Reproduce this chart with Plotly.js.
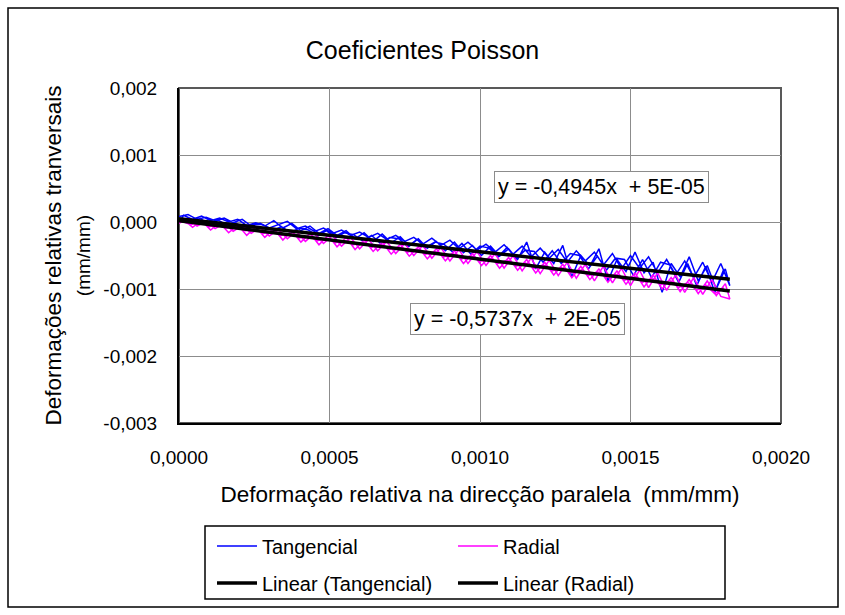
<!DOCTYPE html>
<html>
<head>
<meta charset="utf-8">
<script src="https://cdn.plot.ly/plotly-3.0.1.min.js"></script>
<style>html,body{margin:0;padding:0;background:#fff;}#chart{width:845px;height:615px;}</style>
</head>
<body>
<div id="chart"></div>
<script>
// ---- data (strain, mm/mm) ----
const strainUp = [0,0.00003,0.00006,0.00009,0.00012,0.00015,0.00018,0.00021,0.00024,0.00027,0.0003,0.00033,0.00036,0.00039,0.00042,0.00045,0.00048,0.00051,0.00054,0.00057,0.0006,0.00063,0.00066,0.00069,0.00072,0.00075,0.00078,0.00081,0.00084,0.00087,0.0009,0.00093,0.00096,0.00099,0.00102,0.00105,0.00108,0.00111,0.00114,0.00117,0.0012,0.00123,0.00126,0.00129,0.00132,0.00135,0.00138,0.00141,0.00144,0.00147,0.0015,0.00153,0.00156,0.00159,0.00162,0.00165,0.00168,0.00171,0.00174,0.00177,0.0018,0.00183];
const strainDown = [0.001815,0.001785,0.001755,0.001725,0.001695,0.001665,0.001635,0.001605,0.001575,0.001545,0.001515,0.001485,0.001455,0.001425,0.001395,0.001365,0.001335,0.001305,0.001275,0.001245,0.001215,0.001185,0.001155,0.001125,0.001095,0.001065,0.001035,0.001005,0.000975,0.000945,0.000915,0.000885,0.000855,0.000825,0.000795,0.000765,0.000735,0.000705,0.000675,0.000645,0.000615,0.000585,0.000555,0.000525,0.000495,0.000465,0.000435,0.000405,0.000375,0.000345,0.000315,0.000285,0.000255,0.000225,0.000195,0.000165,0.000135,0.000105,0.000075,0.000045,0.000015];
const strainUp2 = [0.00001,0.00004,0.00007,0.0001,0.00013,0.00016,0.00019,0.00022,0.00025,0.00028,0.00031,0.00034,0.00037,0.0004,0.00043,0.00046,0.00049,0.00052,0.00055,0.00058,0.00061,0.00064,0.00067,0.0007,0.00073,0.00076,0.00079,0.00082,0.00085,0.00088,0.00091,0.00094,0.00097,0.001,0.00103,0.00106,0.00109,0.00112,0.00115,0.00118,0.00121,0.00124,0.00127,0.0013,0.00133,0.00136,0.00139,0.00142,0.00145,0.00148,0.00151,0.00154,0.00157,0.0016,0.00163,0.00166,0.00169,0.00172,0.00175,0.00178,0.00181];

const tangUp = [80e-6,110e-6,40e-6,70e-6,20e-6,60e-6,-10e-6,40e-6,-60e-6,-20e-6,-90e-6,-40e-6,10e-6,-100e-6,-60e-6,-140e-6,-90e-6,-170e-6,-120e-6,-200e-6,-150e-6,-230e-6,-170e-6,-260e-6,-200e-6,-290e-6,-230e-6,-330e-6,-240e-6,-350e-6,-270e-6,-400e-6,-300e-6,-420e-6,-330e-6,-450e-6,-340e-6,-480e-6,-360e-6,-520e-6,-390e-6,-540e-6,-410e-6,-600e-6,-430e-6,-580e-6,-450e-6,-640e-6,-470e-6,-700e-6,-500e-6,-690e-6,-520e-6,-760e-6,-560e-6,-790e-6,-580e-6,-830e-6,-600e-6,-900e-6,-620e-6,-950e-6];
const tangDown = [-700e-6,-1000e-6,-650e-6,-880e-6,-520e-6,-820e-6,-620e-6,-1050e-6,-600e-6,-760e-6,-450e-6,-740e-6,-560e-6,-880e-6,-400e-6,-660e-6,-500e-6,-820e-6,-350e-6,-620e-6,-450e-6,-700e-6,-300e-6,-560e-6,-400e-6,-510e-6,-360e-6,-500e-6,-350e-6,-460e-6,-300e-6,-430e-6,-290e-6,-390e-6,-250e-6,-360e-6,-220e-6,-310e-6,-180e-6,-290e-6,-160e-6,-250e-6,-130e-6,-200e-6,-100e-6,-170e-6,-60e-6,-130e-6,-20e-6,-90e-6,20e-6,-60e-6,-10e-6,-50e-6,40e-6,0,60e-6,20e-6,90e-6,40e-6,100e-6];
const tangUp2 = [60e-6,0,50e-6,-30e-6,30e-6,-50e-6,-20e-6,-100e-6,-30e-6,-40e-6,-130e-6,-70e-6,-160e-6,-90e-6,-120e-6,-210e-6,-130e-6,-240e-6,-160e-6,-190e-6,-280e-6,-200e-6,-320e-6,-230e-6,-250e-6,-370e-6,-260e-6,-380e-6,-300e-6,-330e-6,-450e-6,-320e-6,-480e-6,-360e-6,-390e-6,-520e-6,-380e-6,-550e-6,-420e-6,-440e-6,-600e-6,-430e-6,-620e-6,-470e-6,-500e-6,-700e-6,-510e-6,-720e-6,-540e-6,-560e-6,-800e-6,-560e-6,-830e-6,-600e-6,-640e-6,-900e-6,-620e-6,-950e-6,-660e-6,-1050e-6,-700e-6];

const radUp = [-20e-6,50e-6,-60e-6,10e-6,-100e-6,-20e-6,-140e-6,-50e-6,-170e-6,-80e-6,-210e-6,-110e-6,-250e-6,-140e-6,-290e-6,-170e-6,-320e-6,-200e-6,-360e-6,-230e-6,-400e-6,-260e-6,-430e-6,-290e-6,-470e-6,-320e-6,-500e-6,-350e-6,-540e-6,-380e-6,-580e-6,-410e-6,-620e-6,-440e-6,-650e-6,-470e-6,-690e-6,-500e-6,-730e-6,-540e-6,-770e-6,-570e-6,-800e-6,-600e-6,-840e-6,-630e-6,-880e-6,-660e-6,-910e-6,-690e-6,-950e-6,-720e-6,-980e-6,-760e-6,-1020e-6,-790e-6,-1050e-6,-830e-6,-1080e-6,-860e-6,-1110e-6,-1150e-6];
const radDown = [-920e-6,-1100e-6,-880e-6,-1070e-6,-860e-6,-1040e-6,-830e-6,-1000e-6,-790e-6,-970e-6,-760e-6,-930e-6,-730e-6,-900e-6,-700e-6,-860e-6,-660e-6,-830e-6,-630e-6,-790e-6,-600e-6,-760e-6,-560e-6,-720e-6,-530e-6,-690e-6,-500e-6,-650e-6,-470e-6,-620e-6,-430e-6,-580e-6,-400e-6,-550e-6,-370e-6,-510e-6,-330e-6,-480e-6,-300e-6,-440e-6,-270e-6,-410e-6,-230e-6,-370e-6,-200e-6,-340e-6,-170e-6,-300e-6,-130e-6,-270e-6,-100e-6,-230e-6,-70e-6,-200e-6,-40e-6,-160e-6,-10e-6,-120e-6,20e-6,-80e-6,40e-6];
const radUp2 = [10e-6,-40e-6,10e-6,-70e-6,-40e-6,-90e-6,-60e-6,-130e-6,-110e-6,-170e-6,-140e-6,-200e-6,-170e-6,-240e-6,-210e-6,-280e-6,-240e-6,-310e-6,-280e-6,-340e-6,-300e-6,-380e-6,-330e-6,-410e-6,-370e-6,-450e-6,-400e-6,-480e-6,-440e-6,-520e-6,-470e-6,-550e-6,-500e-6,-590e-6,-540e-6,-620e-6,-570e-6,-660e-6,-610e-6,-690e-6,-640e-6,-730e-6,-680e-6,-760e-6,-710e-6,-800e-6,-740e-6,-830e-6,-780e-6,-870e-6,-800e-6,-900e-6,-840e-6,-940e-6,-870e-6,-980e-6,-900e-6,-1020e-6,-940e-6,-1070e-6,-980e-6];

// trendline equations shown on the chart
const seriesNames = ['Tangencial','Radial'];
const fitSlope = [-0.4945, -0.5737];
const fitIntercept = [5e-5, 2e-5];
const fitLabels = ['y = -0,4945x\u00a0 + 5E-05', 'y = -0,5737x\u00a0 + 2E-05'];

// tick labels
const xTickVals = [0, 0.0005, 0.001, 0.0015, 0.002];
const xTickText = ['0,0000','0,0005','0,0010','0,0015','0,0020'];
const yTickVals = [0.002, 0.001, 0, -0.001, -0.002, -0.003];
const yTickText = ['0,002','0,001','0,000','-0,001','-0,002','-0,003'];

// ---- layout geometry ----
const W = 845, H = 615, L = 179, R = 64, T = 88, B = 192;
const PW = W - L - R, PH = H - T - B;
const px = v => (v - L) / PW;
const py = v => 1 - (v - T) / PH;
const FONT = 'Liberation Sans, Arial, sans-serif';

const tangX = strainUp.concat(strainDown, strainUp2);
const tangY = tangUp.concat(tangDown, tangUp2);
const radX = strainUp.concat(strainDown, strainUp2);
const radY = radUp.concat(radDown, radUp2);

function fitLine(xs, k) {
  const x0 = Math.min.apply(null, xs), x1 = Math.max.apply(null, xs);
  return {x: [x0, x1], y: [fitSlope[k]*x0 + fitIntercept[k], fitSlope[k]*x1 + fitIntercept[k]]};
}
const fT = fitLine(tangX, 0), fR = fitLine(radX, 1);

const traces = [
  {x: tangX, y: tangY, type: 'scatter', mode: 'lines', name: seriesNames[0], line: {color: '#0000FF', width: 1.5}, legend: 'legend'},
  {x: radX, y: radY, type: 'scatter', mode: 'lines', name: seriesNames[1], line: {color: '#FF00FF', width: 1.5}, legend: 'legend'},
  {x: fT.x, y: fT.y, type: 'scatter', mode: 'lines', name: 'Linear (' + seriesNames[0] + ')', line: {color: '#000', width: 3.5}, legend: 'legend2'},
  {x: fR.x, y: fR.y, type: 'scatter', mode: 'lines', name: 'Linear (' + seriesNames[1] + ')', line: {color: '#000', width: 3.5}, legend: 'legend2'}
];

const legendCommon = {
  orientation: 'h', xanchor: 'left', yanchor: 'middle',
  font: {family: FONT, size: 20, color: '#000'},
  entrywidth: 186, entrywidthmode: 'pixels', itemwidth: 40,
  bgcolor: 'rgba(0,0,0,0)', borderwidth: 0, traceorder: 'normal'
};

const layout = {
  width: W, height: H,
  margin: {l: L, r: R, t: T, b: B, pad: 0},
  paper_bgcolor: '#fff', plot_bgcolor: '#fff',
  font: {family: FONT, color: '#000'},
  title: {text: 'Coeficientes Poisson', font: {family: FONT, size: 25, color: '#000'},
          x: 0.5, xanchor: 'center', xref: 'container', y: 1 - 50/H, yanchor: 'middle', yref: 'container'},
  xaxis: {
    range: [0, 0.002], tickmode: 'array', tickvals: xTickVals, ticktext: xTickText,
    showgrid: true, gridcolor: '#8c8c8c', gridwidth: 1, zeroline: false,
    showline: true, linecolor: '#000', linewidth: 2, ticks: '', ticklabelstandoff: 16,
    tickfont: {family: FONT, size: 19, color: '#000'},
    title: {text: 'Deformação relativa na direcção paralela\u00a0 (mm/mm)', font: {family: FONT, size: 22.5, color: '#000'}, standoff: 19},
    automargin: false
  },
  yaxis: {
    range: [-0.003, 0.002], tickmode: 'array', tickvals: yTickVals, ticktext: yTickText,
    showgrid: true, gridcolor: '#8c8c8c', gridwidth: 1, zeroline: false,
    showline: true, linecolor: '#000', linewidth: 2, ticks: '', ticklabelstandoff: 16,
    tickfont: {family: FONT, size: 19, color: '#000'},
    title: {text: 'Deformações relativas tranversais<br><span style="font-size:19px">(mm/mm)</span>', font: {family: FONT, size: 22.5, color: '#000'}, standoff: 6},
    automargin: false
  },
  showlegend: true,
  legend: Object.assign({}, legendCommon, {x: px(212), y: py(546)}),
  legend2: Object.assign({}, legendCommon, {x: px(212), y: py(583)}),
  shapes: [
    {type: 'rect', xref: 'paper', yref: 'paper', x0: px(8), x1: px(838), y0: py(607), y1: py(8), line: {color: '#000', width: 1.5}, layer: 'below'},
    {type: 'rect', xref: 'paper', yref: 'paper', x0: 0, x1: 1, y0: 0, y1: 1, line: {color: '#595959', width: 2}, layer: 'below'},
    {type: 'rect', xref: 'paper', yref: 'paper', x0: px(205), x1: px(725), y0: py(599), y1: py(526), line: {color: '#000', width: 1.5}, layer: 'below'}
  ],
  annotations: [
    {xref: 'paper', yref: 'paper', x: px(601), y: py(187), text: fitLabels[0], showarrow: false,
     font: {family: FONT, size: 21.5, color: '#000'}, bgcolor: '#fff', bordercolor: '#8c8c8c', borderwidth: 1, borderpad: 3, xanchor: 'center', yanchor: 'middle'},
    {xref: 'paper', yref: 'paper', x: px(517), y: py(319), text: fitLabels[1], showarrow: false,
     font: {family: FONT, size: 21.5, color: '#000'}, bgcolor: '#fff', bordercolor: '#8c8c8c', borderwidth: 1, borderpad: 3, xanchor: 'center', yanchor: 'middle'}
  ]
};

Plotly.newPlot('chart', traces, layout, {displayModeBar: false, staticPlot: true});
</script>
</body>
</html>
